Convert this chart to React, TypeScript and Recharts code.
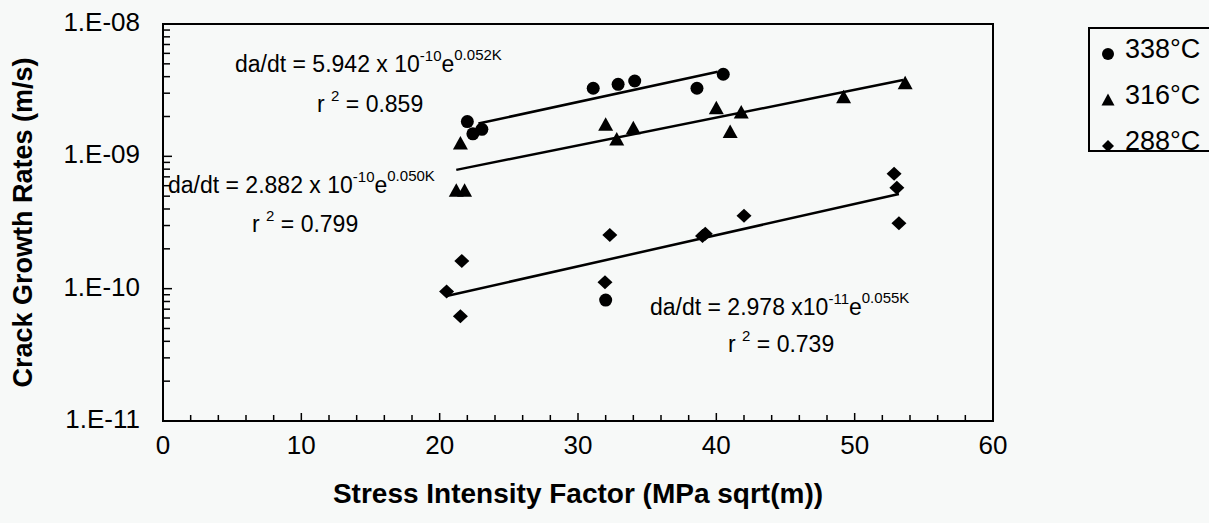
import React from "react";
import { ScatterChart, Scatter, XAxis, YAxis, ReferenceArea, Legend } from "recharts";

// axis ticks
const kTicks = [0, 2, 4, 6, 8, 10, 12, 14, 16, 18, 20, 22, 24, 26, 28, 30, 32, 34, 36, 38, 40, 42, 44, 46, 48, 50, 52, 54, 56, 58, 60];
const kMajor = [0, 10, 20, 30, 40, 50, 60];
const rateTicks = [
  1e-11, 2e-11, 3e-11, 4e-11, 5e-11, 6e-11, 7e-11, 8e-11, 9e-11,
  1e-10, 2e-10, 3e-10, 4e-10, 5e-10, 6e-10, 7e-10, 8e-10, 9e-10,
  1e-9, 2e-9, 3e-9, 4e-9, 5e-9, 6e-9, 7e-9, 8e-9, 9e-9, 1e-8,
];
const rateMajor = [1e-11, 1e-10, 1e-9, 1e-8];
const rateLabels = ["1.E-11", "1.E-10", "1.E-09", "1.E-08"];

// measured points, K (MPa sqrt(m)) and da/dt (m/s)
const k338 = [22.0, 22.4, 23.05, 31.1, 32.9, 34.1, 38.6, 40.5, 32.0];
const rate338 = [1.83e-9, 1.48e-9, 1.6e-9, 3.27e-9, 3.5e-9, 3.71e-9, 3.27e-9, 4.17e-9, 8.2e-11];

const k316 = [21.5, 21.2, 21.8, 32.0, 32.8, 34.0, 40.0, 41.0, 41.8, 49.2, 53.65];
const rate316 = [1.25e-9, 5.5e-10, 5.5e-10, 1.73e-9, 1.34e-9, 1.63e-9, 2.31e-9, 1.53e-9, 2.14e-9, 2.79e-9, 3.57e-9];

const k288 = [20.5, 21.6, 21.5, 31.95, 32.3, 39.0, 39.2, 42.0, 52.85, 53.05, 53.2];
const rate288 = [9.5e-11, 1.62e-10, 6.2e-11, 1.12e-10, 2.54e-10, 2.5e-10, 2.6e-10, 3.56e-10, 7.4e-10, 5.8e-10, 3.12e-10];

// fitted trend lines, end points
const kFit338 = [22.8, 40.1];
const rateFit338 = [1.77e-9, 4.36e-9];
const kFit316 = [21.2, 53.5];
const rateFit316 = [7.9e-10, 3.77e-9];
const kFit288 = [20.5, 53.2];
const rateFit288 = [8.8e-11, 5.2e-10];

const seriesNames = ["338°C", "316°C", "288°C"];

const zip = (ks: number[], rs: number[]) => ks.map((k, i) => ({ k, rate: rs[i] }));

const FONT = '"Liberation Sans", Arial, sans-serif';
const BG = "#f7f9f8";

const DotShape = ({ cx, cy }: any) => <circle cx={cx} cy={cy} r={6.5} fill="#000" />;
const TriShape = ({ cx, cy }: any) => (
  <path d={`M${cx},${cy - 7.5}L${cx + 7.5},${cy + 6}L${cx - 7.5},${cy + 6}Z`} fill="#000" />
);
const DiaShape = ({ cx, cy }: any) => (
  <path d={`M${cx},${cy - 7}L${cx + 7.5},${cy}L${cx},${cy + 7}L${cx - 7.5},${cy}Z`} fill="#000" />
);
const NoShape = () => <g />;

const XTick = ({ x, y, payload }: any) => {
  const major = kMajor.includes(payload.value);
  return (
    <g>
      <line x1={x} x2={x} y1={y} y2={y - (major ? 8 : 6)} stroke="#000" strokeWidth={1.5} />
      {major && (
        <text x={x} y={y + 24} textAnchor="middle" dominantBaseline="central" fontSize={26} fontFamily={FONT} fill="#000">
          {payload.value}
        </text>
      )}
    </g>
  );
};

const YTick = ({ x, y, payload }: any) => {
  const i = rateMajor.indexOf(payload.value);
  return (
    <g>
      <line x1={x} x2={x + (i >= 0 ? 9 : 7)} y1={y} y2={y} stroke="#000" strokeWidth={1.5} />
      {i >= 0 && (
        <text x={x - 23} y={y - 2} textAnchor="end" dominantBaseline="central" fontSize={26} fontFamily={FONT} fill="#000">
          {rateLabels[i]}
        </text>
      )}
    </g>
  );
};

const legendMarks = [
  <circle cx={8} cy={8} r={6} fill="#000" />,
  <path d="M8,1.5L14.5,13.5L1.5,13.5Z" fill="#000" />,
  <path d="M8,2L14,8L8,14L2,8Z" fill="#000" />,
];

const LegendBox = () => (
  <div
    style={{
      border: "2px solid #000",
      boxSizing: "border-box",
      width: 140,
      height: 125,
      background: BG,
      fontFamily: FONT,
      fontSize: 27,
      position: "relative",
    }}
  >
    {seriesNames.map((name, i) => (
      <div key={name} style={{ position: "absolute", left: 0, top: 2 + i * 46 - 4, height: 44, display: "flex", alignItems: "center" }}>
        <svg width={16} height={16} style={{ marginLeft: 10, marginTop: 10 }}>
          {legendMarks[i]}
        </svg>
        <span style={{ marginLeft: 9, lineHeight: "44px" }}>{name}</span>
      </div>
    ))}
  </div>
);

const Eq = ({ x, y, a, exp, b }: { x: number; y: number; a: string; exp: string; b: string }) => (
  <text x={x} y={y} fontSize={23} fontFamily={FONT} fill="#000">
    {a}
    <tspan fontSize={15} dy={-11}>{exp}</tspan>
    <tspan fontSize={23} dy={11}>e</tspan>
    <tspan fontSize={15} dy={-12}>{b}</tspan>
  </text>
);

const R2 = ({ x, y, v }: { x: number; y: number; v: string }) => (
  <text x={x} y={y} fontSize={23} fontFamily={FONT} fill="#000">
    r <tspan fontSize={15} dy={-11}>2</tspan>
    <tspan fontSize={23} dy={11}> = {v}</tspan>
  </text>
);

export default function App() {
  return (
    <div style={{ position: "absolute", left: 0, top: 0, width: 1209, height: 523, overflow: "hidden", background: BG }}>
      <ScatterChart width={1209} height={523} margin={{ top: 24, right: 216, bottom: 0, left: 0 }}>
        <XAxis
          type="number"
          dataKey="k"
          domain={[0, 60]}
          ticks={kTicks}
          interval={0}
          tick={<XTick />}
          tickLine={false}
          tickSize={0}
          tickMargin={0}
          height={102}
          axisLine={{ stroke: "#000", strokeWidth: 2 }}
          label={{
            value: "Stress Intensity Factor (MPa sqrt(m))",
            position: "insideBottom",
            offset: 20,
            style: { fontSize: 28, fontWeight: "bold", fontFamily: FONT, fill: "#000" },
          }}
        />
        <YAxis
          type="number"
          dataKey="rate"
          scale="log"
          domain={[1e-11, 1e-8]}
          ticks={rateTicks}
          interval={0}
          allowDataOverflow
          tick={<YTick />}
          tickLine={false}
          tickSize={0}
          tickMargin={0}
          width={163}
          axisLine={{ stroke: "#000", strokeWidth: 2 }}
          label={{
            value: "Crack Growth Rates (m/s)",
            angle: -90,
            position: "insideLeft",
            offset: 22,
            style: { textAnchor: "middle", fontSize: 27, fontWeight: "bold", fontFamily: FONT, fill: "#000" },
          }}
        />
        <ReferenceArea x1={0} x2={60} y1={1e-11} y2={1e-8} fill="none" stroke="#000" strokeWidth={2} />
        <Legend
          layout="vertical"
          align="center"
          verticalAlign="middle"
          wrapperStyle={{ left: 1088, top: 27, width: 140, height: 125 }}
          content={<LegendBox />}
        />
        <Scatter name={seriesNames[0]} data={zip(k338, rate338)} shape={<DotShape />} isAnimationActive={false} />
        <Scatter name={seriesNames[1]} data={zip(k316, rate316)} shape={<TriShape />} isAnimationActive={false} />
        <Scatter name={seriesNames[2]} data={zip(k288, rate288)} shape={<DiaShape />} isAnimationActive={false} />
        <Scatter data={zip(kFit338, rateFit338)} line={{ stroke: "#000", strokeWidth: 2.5 }} shape={<NoShape />} legendType="none" isAnimationActive={false} />
        <Scatter data={zip(kFit316, rateFit316)} line={{ stroke: "#000", strokeWidth: 2.5 }} shape={<NoShape />} legendType="none" isAnimationActive={false} />
        <Scatter data={zip(kFit288, rateFit288)} line={{ stroke: "#000", strokeWidth: 2.5 }} shape={<NoShape />} legendType="none" isAnimationActive={false} />
      </ScatterChart>
      <svg width={1209} height={523} style={{ position: "absolute", left: 0, top: 0, pointerEvents: "none" }}>
        <Eq x={235} y={72} a="da/dt = 5.942 x 10" exp="-10" b="0.052K" />
        <R2 x={317} y={112} v="0.859" />
        <Eq x={168} y={193} a="da/dt = 2.882 x 10" exp="-10" b="0.050K" />
        <R2 x={252} y={232} v="0.799" />
        <Eq x={650} y={315} a="da/dt = 2.978 x10" exp="-11" b="0.055K" />
        <R2 x={728} y={352} v="0.739" />
      </svg>
    </div>
  );
}
